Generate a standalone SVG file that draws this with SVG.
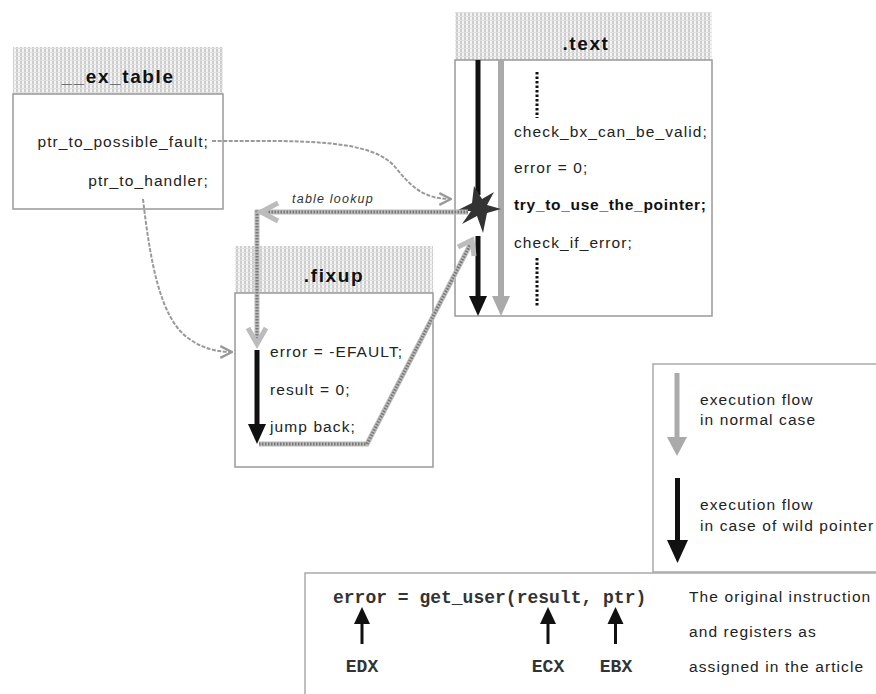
<svg xmlns="http://www.w3.org/2000/svg" width="876" height="694" viewBox="0 0 876 694">
<defs>
  <pattern id="grid" width="4" height="4" patternUnits="userSpaceOnUse">
    <rect width="4" height="4" fill="#f4f4f4"/>
    <line x1="1" y1="0" x2="1" y2="4" stroke="#bdbdbd" stroke-width="1.4"/>
    <line x1="0" y1="0.5" x2="4" y2="0.5" stroke="#e0e0e0" stroke-width="1"/>
  </pattern>
  <marker id="chev" viewBox="0 0 12 12" refX="11" refY="6" markerWidth="14" markerHeight="14" markerUnits="userSpaceOnUse" orient="auto">
    <path d="M1,1 L11,6 L1,11" fill="none" stroke="#999" stroke-width="2"/>
  </marker>
</defs>
<style>
  .box { fill: #fff; stroke: #999; stroke-width: 1.5; }
  .hdr { fill: url(#grid); stroke: none; }
  .title { font-family: "Liberation Sans", Arial, sans-serif; font-weight: bold; font-size: 19px; letter-spacing: 1.6px; fill: #111; text-anchor: middle; }
  .t { font-family: "Liberation Sans", Arial, sans-serif; font-size: 15.5px; letter-spacing: 1.1px; fill: #222; }
  .tb { font-family: "Liberation Sans", Arial, sans-serif; font-size: 15.5px; letter-spacing: 0.7px; font-weight: bold; fill: #111; }
  .mono { font-family: "Liberation Mono", "Courier New", monospace; font-size: 18px; font-weight: bold; fill: #333; }
  .lbl { font-family: "Liberation Sans", Arial, sans-serif; font-size: 12.5px; font-style: italic; letter-spacing: 1.2px; fill: #333; text-anchor: middle; }
  .gcurve { fill: none; stroke: #9a9a9a; stroke-width: 2; stroke-dasharray: 4 1.5; }
  .hbase { fill: none; stroke: #bcbcbc; stroke-width: 5; }
  .hdash { fill: none; stroke: #777; stroke-width: 3; stroke-dasharray: 1.5 1.5; }
  .dots { stroke: #111; stroke-width: 3; stroke-dasharray: 2.5 2; }
</style>

<g id="ex_table">
  <rect class="hdr" x="13" y="47" width="210" height="47"/>
  <text class="title" x="118" y="83">__ex_table</text>
  <rect class="box" x="13" y="94" width="210" height="115"/>
  <text class="t" x="209" y="147" text-anchor="end">ptr_to_possible_fault;</text>
  <text class="t" x="209" y="186" text-anchor="end">ptr_to_handler;</text>
</g>

<g id="text_section">
  <rect class="hdr" x="455" y="12" width="257" height="48"/>
  <text class="title" x="586" y="50">.text</text>
  <rect class="box" x="455" y="60" width="257" height="256"/>
  <line class="dots" x1="537" y1="72" x2="537" y2="118"/>
  <text class="t" x="514" y="137">check_bx_can_be_valid;</text>
  <text class="t" x="514" y="173">error = 0;</text>
  <text class="tb" x="514" y="210">try_to_use_the_pointer;</text>
  <text class="t" x="514" y="248">check_if_error;</text>
  <line class="dots" x1="537" y1="258" x2="537" y2="306"/>
</g>

<g id="fixup">
  <rect class="hdr" x="235" y="246" width="198" height="47"/>
  <text class="title" x="334" y="282">.fixup</text>
  <rect class="box" x="235" y="293" width="198" height="174"/>
  <text class="t" x="270" y="357">error = -EFAULT;</text>
  <text class="t" x="270" y="395">result = 0;</text>
  <text class="t" x="270" y="432">jump back;</text>
</g>

<g id="legend">
  <path d="M878,364 H653 V572 H878" fill="none" stroke="#aaa" stroke-width="1.5"/>
  <rect x="674.5" y="373" width="5" height="66" fill="#aaa"/>
  <polygon points="667,437 687,437 677,456" fill="#aaa"/>
  <text class="t" x="700" y="405">execution flow</text>
  <text class="t" x="700" y="425">in normal case</text>
  <rect x="675" y="478" width="5" height="64" fill="#111"/>
  <polygon points="667,540 688,540 677.5,563" fill="#111"/>
  <text class="t" x="700" y="510">execution flow</text>
  <text class="t" x="700" y="531">in case of wild pointer</text>
</g>

<g id="instruction">
  <path d="M305,700 V573 H878" fill="none" stroke="#aaa" stroke-width="1.5"/>
  <text class="mono" x="333" y="603">error = get_user(result, ptr)</text>
  <text class="t" x="689" y="602">The original instruction</text>
  <text class="t" x="689" y="637">and registers as</text>
  <text class="t" x="689" y="672">assigned in the article</text>
  <g fill="#111">
    <rect x="360.5" y="620" width="3" height="24"/>
    <polygon points="354,624 370,624 362,607"/>
    <rect x="546.5" y="620" width="3" height="24"/>
    <polygon points="540,624 556,624 548,607"/>
    <rect x="614" y="620" width="3" height="24"/>
    <polygon points="607.5,624 623.5,624 615.5,607"/>
  </g>
  <text class="mono" x="362" y="672" text-anchor="middle">EDX</text>
  <text class="mono" x="548" y="672" text-anchor="middle">ECX</text>
  <text class="mono" x="616" y="672" text-anchor="middle">EBX</text>
</g>

<g id="connectors">
  <!-- normal flow (gray) and wild-pointer flow (black) in .text -->
  <rect x="498" y="60" width="6" height="238" fill="#aaa"/>
  <polygon points="492,296 510,296 501,316" fill="#aaa"/>
  <rect x="475.5" y="60" width="5" height="135" fill="#111"/>
  <rect x="475.5" y="236" width="5" height="62" fill="#111"/>
  <polygon points="469,296 487,296 478,316" fill="#111"/>
  <polygon points="456,211 472,203 474,186 482,199 494,192 487,205 501,209 487,213 483,233 477,216 462,224 471,211" fill="#333"/>

  <!-- ex_table pointers -->
  <path class="gcurve" d="M212,141 C300,141 372,138 396,168 C412,188 425,199 451,199" marker-end="url(#chev)"/>
  <path class="gcurve" d="M143,199 C150,260 160,318 188,338 C203,349 218,352 232,352" marker-end="url(#chev)"/>

  <!-- table lookup -->
  <path class="hbase" d="M468,212 H257 V343"/>
  <path class="hdash" d="M468,212 H257 V343"/>
  <path class="hbase" d="M278,203 L261,212 L278,221"/>
  <path class="hbase" d="M248,328 L257,344 L266,328"/>
  <text class="lbl" x="333" y="203">table lookup</text>

  <!-- jump back -->
  <path class="hbase" d="M259,444 H367 L471,243"/>
  <path class="hdash" d="M259,444 H367 L471,243"/>
  <path class="hbase" d="M458,247 L472,240 L474,256"/>

  <!-- fixup execution -->
  <rect x="254.5" y="350" width="5" height="76" fill="#111"/>
  <polygon points="248,424 266,424 257,444" fill="#111"/>
</g>
</svg>
